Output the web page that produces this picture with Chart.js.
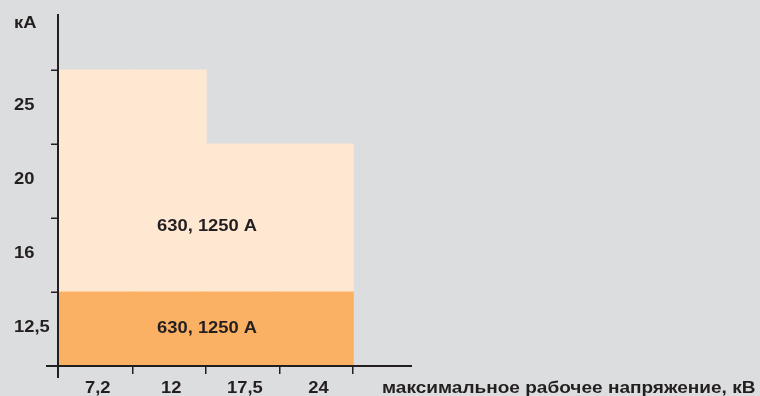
<!DOCTYPE html>
<html>
<head>
<meta charset="utf-8">
<script src="https://cdn.jsdelivr.net/npm/chart.js@4/dist/chart.umd.min.js"></script>
<style>
  html, body { margin: 0; padding: 0; background: #dcdddf; }
  canvas { display: block; }
</style>
</head>
<body>
<canvas id="chart" width="760" height="396"></canvas>
<script>
// Rated voltage classes, kV
const voltages = ['7,2', '12', '17,5', '24'];
// Short-time withstand current levels, kA (tick labels of the vertical axis)
const kaLevels = [12.5, 16, 20, 25];
const kaLabels = ['12,5', '16', '20', '25'];
// Highest level reached per voltage class and the common base level, kA
const maxCurrent = [25, 25, 20, 20];
const baseCurrent = [12.5, 12.5, 12.5, 12.5];
// Rated normal currents written inside both areas
const ratedLabel = '630, 1250 A';
const unitY = 'кА';
const titleX = 'максимальное рабочее напряжение, кВ';

const INK = '#231f20';
const FONT = '"Liberation Sans", Arial, sans-serif';

// each kA level occupies one band on the vertical scale
const bandTop = v => kaLevels.indexOf(v) + 1;

const lowerBars = voltages.map((v, i) => ({ x: i + 0.5, y: [0, bandTop(baseCurrent[i])] }));
const upperBars = voltages.map((v, i) => ({ x: i + 0.5, y: [bandTop(baseCurrent[i]), bandTop(maxCurrent[i])] }));

function stretchedText(ctx, text, x, y, align, sx) {
  ctx.save();
  ctx.translate(x, y);
  ctx.scale(sx || 1.08, 1);
  ctx.textAlign = align;
  ctx.fillText(text, 0, 0);
  ctx.restore();
}

const frame = {
  id: 'frame',
  beforeDraw(chart) {
    const ctx = chart.ctx;
    ctx.save();
    ctx.fillStyle = '#dcdddf';
    ctx.fillRect(0, 0, chart.width, chart.height);
    ctx.restore();
  },
  afterDatasetsDraw(chart) {
    const ctx = chart.ctx;
    const xs = chart.scales.x, ys = chart.scales.y;
    const x0 = xs.getPixelForValue(0) - 1;
    const y0 = ys.getPixelForValue(0);
    const xEnd = xs.getPixelForValue(xs.max);
    const yEnd = ys.getPixelForValue(ys.max);
    ctx.save();
    ctx.strokeStyle = INK;
    ctx.fillStyle = INK;

    // axis lines, both running a little past the origin
    ctx.lineWidth = 2;
    ctx.beginPath();
    ctx.moveTo(x0, yEnd);
    ctx.lineTo(x0, y0 + 12);
    ctx.moveTo(x0 - 12, y0);
    ctx.lineTo(xEnd, y0);
    ctx.stroke();

    // band boundaries
    ctx.lineWidth = 1.5;
    ctx.beginPath();
    for (let k = 1; k <= kaLevels.length; k++) {
      const py = Math.round(ys.getPixelForValue(k)) + 0.25;
      ctx.moveTo(x0 - 7, py);
      ctx.lineTo(x0, py);
    }
    for (let k = 1; k <= voltages.length; k++) {
      const px = Math.round(xs.getPixelForValue(k)) - 0.25;
      ctx.moveTo(px, y0);
      ctx.lineTo(px, y0 + 8);
    }
    ctx.stroke();

    // tick labels
    ctx.font = 'bold 17px ' + FONT;
    ctx.textBaseline = 'alphabetic';
    kaLabels.forEach((t, k) => {
      stretchedText(ctx, t, 14, ys.getPixelForValue(k + 0.5) + 3, 'left');
    });
    stretchedText(ctx, unitY, 14, 28, 'left');
    voltages.forEach((t, i) => {
      stretchedText(ctx, t, xs.getPixelForValue(i + 0.5) + 2, 393, 'center');
    });
    stretchedText(ctx, titleX, 382, 393, 'left', 1.12);

    // rated currents inside the two areas
    const cx = (xs.getPixelForValue(0) + xs.getPixelForValue(voltages.length)) / 2 + 1;
    stretchedText(ctx, ratedLabel, cx, ys.getPixelForValue(0.5) + 4, 'center');
    stretchedText(ctx, ratedLabel, cx, ys.getPixelForValue(1.9) + 6, 'center');
    ctx.restore();
  }
};

// adjacent columns share their edges: each one fills its whole voltage class
const barStyle = { borderWidth: 0, grouped: false, barPercentage: 1, categoryPercentage: 1, inflateAmount: 0.6 };

new Chart(document.getElementById('chart'), {
  type: 'bar',
  data: {
    datasets: [
      Object.assign({ data: lowerBars, backgroundColor: '#fbb163' }, barStyle),
      Object.assign({ data: upperBars, backgroundColor: '#fee8d2' }, barStyle)
    ]
  },
  options: {
    responsive: false,
    devicePixelRatio: 1,
    animation: false,
    layout: { padding: { left: 59, right: 348, top: 14, bottom: 30 } },
    scales: {
      x: {
        type: 'linear', min: 0, max: 4.8, offset: false, display: false,
        // class boundaries only, one unit apart
        afterBuildTicks: s => { s.ticks = voltages.concat(['']).map((_, k) => ({ value: k })); }
      },
      y: { type: 'linear', min: 0, max: 4.76, display: false }
    },
    plugins: { legend: { display: false }, tooltip: { enabled: false } }
  },
  plugins: [frame]
});
</script>
</body>
</html>
